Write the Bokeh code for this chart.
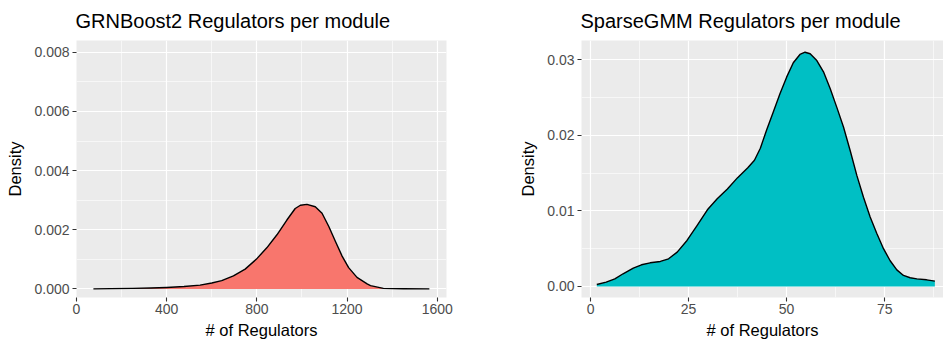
from bokeh.plotting import figure
from bokeh.layouts import row
from bokeh.models import FixedTicker, PrintfTickFormatter, Range1d
from bokeh.embed import file_html
from bokeh.resources import INLINE

# ---- data: GRNBoost2 density ----
grn_x = [75, 150, 250, 330, 400, 477, 548, 600, 644, 696, 748, 797, 844, 889,
         933, 970, 993, 1022, 1059, 1089, 1119, 1148, 1178, 1207, 1244, 1289,
         1304, 1361, 1450, 1565]
grn_y = [0.0, 0.00001, 0.00002, 0.00003, 0.00005, 0.00008, 0.00013, 0.0002,
         0.00028, 0.00044, 0.00067, 0.001, 0.00139, 0.00183, 0.00233, 0.00272,
         0.00283, 0.00286, 0.00278, 0.00256, 0.00211, 0.00161, 0.00111, 0.00072,
         0.00039, 0.00017, 0.00011, 0.00002, 0.000005, 0.0]

# ---- data: SparseGMM density ----
sgmm_x = [1.6, 4.0, 6.2, 8.3, 10.9, 13.0, 15.2, 17.8, 19.9, 22.1, 24.6, 27.2,
          29.8, 32.3, 34.9, 37.5, 40.1, 41.8, 43.3, 44.9, 46.6, 48.3, 50.0,
          51.7, 53.4, 54.7, 56.0, 57.7, 59.4, 61.1, 62.8, 64.5, 66.2, 67.9,
          69.6, 71.3, 73.0, 74.7, 76.4, 78.1, 79.8, 81.5, 83.2, 85.7, 87.8]
sgmm_y = [0.00026, 0.00057, 0.0010, 0.00168, 0.00243, 0.00287, 0.00313,
          0.00331, 0.00366, 0.00455, 0.00609, 0.00808, 0.01015, 0.0116, 0.0129,
          0.0144, 0.0157, 0.0167, 0.0183, 0.0207, 0.0231, 0.0255, 0.0277,
          0.0296, 0.0307, 0.0310, 0.0308, 0.0299, 0.0284, 0.0262, 0.0237,
          0.0211, 0.0180, 0.0147, 0.0118, 0.0092, 0.0070, 0.0050, 0.0034,
          0.0022, 0.00146, 0.00115, 0.00101, 0.00088, 0.00071]

titles = ["GRNBoost2 Regulators per module", "SparseGMM Regulators per module"]
x_label = "# of Regulators"
y_label = "Density"

grn_xticks = [0, 400, 800, 1200, 1600]
grn_xminor = [200, 600, 1000, 1400]
grn_yticks = [0.0, 0.002, 0.004, 0.006, 0.008]
grn_yminor = [0.001, 0.003, 0.005, 0.007]

sgmm_xticks = [0, 25, 50, 75]
sgmm_xminor = [12.5, 37.5, 62.5, 87.5]
sgmm_yticks = [0.0, 0.01, 0.02, 0.03]
sgmm_yminor = [0.005, 0.015, 0.025]

FONT = "Liberation Sans"


def make_panel(title, xs, ys, color, xr, yr, xt, xm, yt, ym, yfmt,
               width, height, bl, br, bt, bb):
    p = figure(width=width, height=height, output_backend="svg",
               toolbar_location=None, x_range=Range1d(*xr), y_range=Range1d(*yr),
               min_border_left=bl, min_border_right=br,
               min_border_top=bt, min_border_bottom=bb)
    p.background_fill_color = "#EBEBEB"
    p.border_fill_color = "white"
    p.outline_line_color = None

    p.title.text = title
    p.title.text_font = FONT
    p.title.text_font_size = "20px"
    p.title.text_font_style = "normal"
    p.title.text_color = "black"
    p.title.align = "left"
    p.title.vertical_align = "top"
    p.title.offset = -1
    p.title.standoff = 13

    p.xaxis.ticker = FixedTicker(ticks=xt, minor_ticks=xm)
    p.yaxis.ticker = FixedTicker(ticks=yt, minor_ticks=ym)
    p.xaxis.formatter = PrintfTickFormatter(format="%d")
    p.yaxis.formatter = PrintfTickFormatter(format=yfmt)

    for ax in (p.xaxis, p.yaxis):
        ax.axis_line_color = None
        ax.major_tick_line_color = "#333333"
        ax.major_tick_line_width = 1.1
        ax.major_tick_out = 4
        ax.major_tick_in = 0
        ax.minor_tick_line_color = None
        ax.major_label_text_font = FONT
        ax.major_label_text_font_size = "14px"
        ax.major_label_text_color = "#4D4D4D"
        ax.axis_label_text_font = FONT
        ax.axis_label_text_font_size = "16.5px"
        ax.axis_label_text_font_style = "normal"
        ax.axis_label_text_color = "black"
        ax.major_label_standoff = 3
    p.xaxis.axis_label = x_label
    p.yaxis.axis_label = y_label
    p.xaxis.major_label_text_line_height = 1.0
    p.xaxis.axis_label_text_line_height = 1.0
    p.xaxis.major_label_standoff = 2
    p.xaxis.axis_label_standoff = 4
    p.yaxis.axis_label_standoff = 7

    for g in (p.xgrid, p.ygrid):
        g.grid_line_color = "white"
        g.grid_line_width = 1.2
        g.minor_grid_line_color = "white"
        g.minor_grid_line_width = 0.6
    p.xgrid.ticker = FixedTicker(ticks=xt, minor_ticks=xm)
    p.ygrid.ticker = FixedTicker(ticks=yt, minor_ticks=ym)

    p.varea(x=xs, y1=[0] * len(xs), y2=ys, fill_color=color)
    p.line(x=xs, y=ys, line_color="black", line_width=1.4, line_join="round")
    return p


p1 = make_panel(titles[0], grn_x, grn_y, "#F8766D", (0, 1641), (-0.00029, 0.0084),
                grn_xticks, grn_xminor, grn_yticks, grn_yminor, "%.3f",
                470, 341, 76, 24, 38, 41)
p2 = make_panel(titles[1], sgmm_x, sgmm_y, "#00BFC4", (-2.3, 90.0), (-0.00146, 0.03255),
                sgmm_xticks, sgmm_xminor, sgmm_yticks, sgmm_yminor, "%.2f",
                473, 341, 111, 0, 40, 43)

layout = row(p1, p2)
open("out.html", "w").write(file_html(layout, INLINE))
